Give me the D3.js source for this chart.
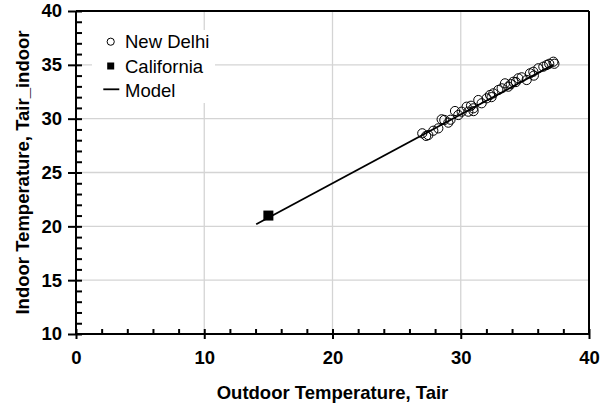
<!DOCTYPE html>
<html><head><meta charset="utf-8">
<script src="https://cdn.jsdelivr.net/npm/d3@7"></script>
<style>body{margin:0;background:#fff}</style></head>
<body><svg id="c" width="608" height="409"></svg>
<script>
const xTicks=[0,10,20,30,40];
const yTicks=[10,15,20,25,30,35,40];
const xMinor=[2,4,6,8,12,14,16,18,22,24,26,28,32,34,36,38];
const yMinor=[11,12,13,14,16,17,18,19,21,22,23,24,26,27,28,29,31,32,33,34,36,37,38,39];
const delhiX=[27.0,27.47,27.86,28.25,28.51,28.72,29.03,29.55,29.81,30.07,30.46,30.59,30.98,31.37,31.63,32.02,32.28,32.54,32.93,33.19,33.45,33.71,34.1,34.49,34.75,35.14,35.4,35.66,36.05,36.44,36.7,37.22,27.3,29.2,30.8,31.0,32.4,33.9,34.3,35.7,36.9,37.3];
const delhiY=[28.64,28.48,28.88,29.1,29.94,29.88,29.63,30.71,30.34,30.65,31.11,30.65,30.96,31.73,31.43,31.89,32.2,32.35,32.66,32.82,33.28,32.97,33.43,33.75,33.84,33.59,34.21,34.36,34.68,34.83,34.98,35.29,28.4,29.9,31.2,30.7,32.0,33.2,33.4,34.0,35.1,35.1];
const californiaX=[15.0];
const californiaY=[21.0];
const modelX=[14.05,37.2];
const modelY=[20.2,35.0];
const legendLabels=["New Delhi","California","Model"];
const xTitle="Outdoor Temperature, Tair";
const yTitle="Indoor Temperature, Tair_indoor";

const FONT="'Liberation Sans', Arial, sans-serif";
const svg=d3.select("#c");
const x=d3.scaleLinear().domain([0,40]).range([76,589]);
const y=d3.scaleLinear().domain([10,40]).range([334,11]);

// gridlines
svg.append("g").selectAll("line").data(xTicks.slice(1,-1)).join("line")
  .attr("x1",d=>x(d)).attr("x2",d=>x(d)).attr("y1",y(10)).attr("y2",y(40))
  .attr("stroke","#d4d4d4").attr("stroke-width",1.3);
svg.append("g").selectAll("line").data(yTicks.slice(1,-1)).join("line")
  .attr("y1",d=>y(d)).attr("y2",d=>y(d)).attr("x1",x(0)).attr("x2",x(40))
  .attr("stroke","#d4d4d4").attr("stroke-width",1.3);

// frame top/right
svg.append("line").attr("x1",x(0)).attr("x2",x(40)).attr("y1",y(40)).attr("y2",y(40)).attr("stroke","#000").attr("stroke-width",2);
svg.append("line").attr("x1",x(40)).attr("x2",x(40)).attr("y1",y(40)).attr("y2",y(10)).attr("stroke","#000").attr("stroke-width",2);

// axes
const gx=svg.append("g").attr("transform",`translate(0,${y(10)})`)
  .call(d3.axisBottom(x).tickValues(xTicks).tickSize(5).tickPadding(12).tickFormat(d3.format("d")));
gx.selectAll(".tick line").attr("y1",-5).attr("y2",5).attr("stroke-width",2);
const gxm=svg.append("g").attr("transform",`translate(0,${y(10)})`)
  .call(d3.axisBottom(x).tickValues(xMinor).tickSize(-5).tickFormat(""));
gxm.selectAll(".tick line").attr("stroke-width",2);
gxm.select(".domain").remove();

const gy=svg.append("g").attr("transform",`translate(${x(0)},0)`)
  .call(d3.axisLeft(y).tickValues(yTicks).tickSize(8).tickPadding(6).tickFormat(d3.format("d")));
gy.selectAll(".tick line").attr("x1",6).attr("x2",-8).attr("stroke-width",2);
const gym=svg.append("g").attr("transform",`translate(${x(0)},0)`)
  .call(d3.axisLeft(y).tickValues(yMinor).tickSize(-6).tickFormat(""));
gym.selectAll(".tick line").attr("stroke-width",2);
gym.select(".domain").remove();

[gx,gy].forEach(g=>{
  g.select(".domain").attr("stroke-width",2).attr("d", g===gx?`M${x(0)},0H${x(40)}`:`M0,${y(10)}V${y(40)}`);
  g.selectAll("text").attr("font-family",FONT).attr("font-size","18.5px").attr("font-weight","bold").attr("fill","#000");
});

// data
svg.append("g").selectAll("circle").data(delhiX.map((d,i)=>[d,delhiY[i]])).join("circle")
  .attr("cx",d=>x(d[0])).attr("cy",d=>y(d[1])).attr("r",4.6)
  .attr("fill","none").attr("stroke","#000").attr("stroke-width",1);
const line=d3.line().x(d=>x(d[0])).y(d=>y(d[1]));
svg.append("path").datum(modelX.map((d,i)=>[d,modelY[i]])).attr("d",line)
  .attr("fill","none").attr("stroke","#000").attr("stroke-width",1.8);
svg.append("g").selectAll("rect").data(californiaX.map((d,i)=>[d,californiaY[i]])).join("rect")
  .attr("x",d=>x(d[0])-5).attr("y",d=>y(d[1])-5).attr("width",10).attr("height",10).attr("fill","#000");

// legend
const lg=svg.append("g");
lg.append("rect").attr("x",92).attr("y",30).attr("width",123).attr("height",73).attr("fill","#fff");
lg.append("circle").attr("cx",110.7).attr("cy",41.7).attr("r",3.6).attr("fill","#fff").attr("stroke","#000").attr("stroke-width",1);
lg.append("rect").attr("x",107.2).attr("y",62.5).attr("width",7).attr("height",7).attr("fill","#000");
lg.append("line").attr("x1",103.3).attr("x2",119.3).attr("y1",89.3).attr("y2",89.3).attr("stroke","#000").attr("stroke-width",1.8);
lg.selectAll("text").data(legendLabels).join("text")
  .attr("x",125).attr("y",(d,i)=>48+i*24.5).text(d=>d)
  .attr("font-family",FONT).attr("font-size","18.5px").attr("fill","#000");

// titles
svg.append("text").attr("x",(x(0)+x(40))/2).attr("y",399).attr("text-anchor","middle")
  .attr("font-family",FONT).attr("font-size","18.5px").attr("font-weight","bold").text(xTitle);
svg.append("text").attr("transform",`translate(29,${(y(10)+y(40))/2}) rotate(-90)`).attr("text-anchor","middle")
  .attr("font-family",FONT).attr("font-size","18.5px").attr("font-weight","bold").text(yTitle);
</script></body></html>
